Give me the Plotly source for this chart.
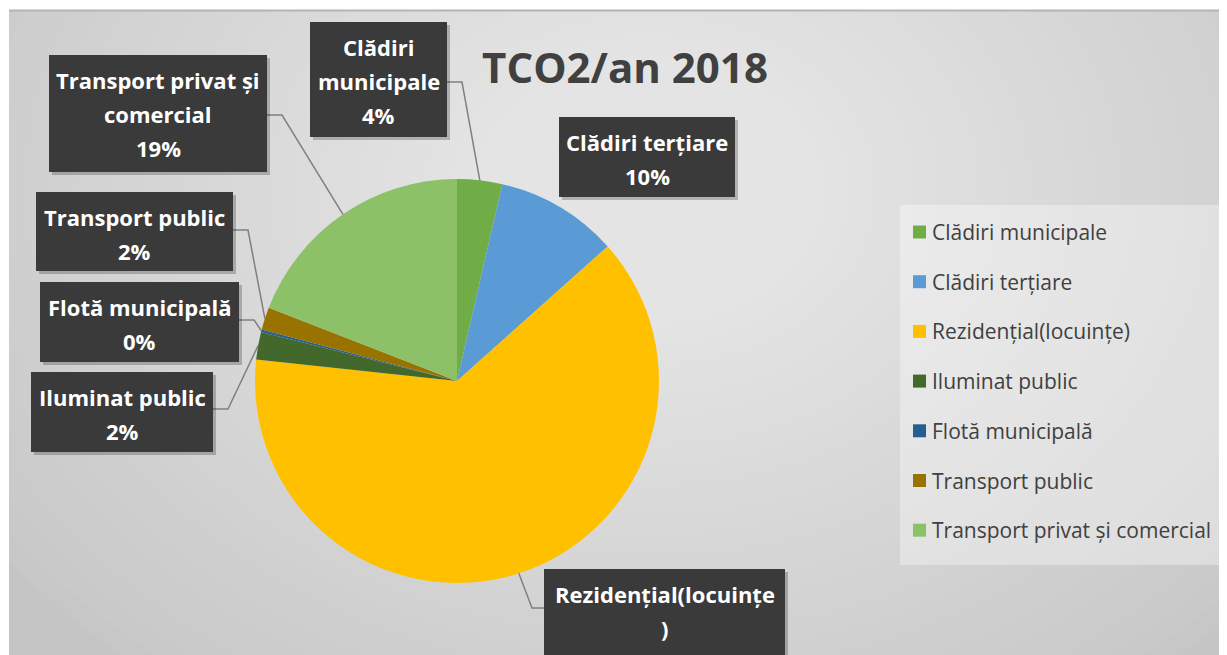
import math
import plotly.graph_objects as go

W, H = 1227, 655
OFF = 8  # page body margin
FW, FH = W - OFF, H - OFF

# ---------------- data ----------------
categories = ["Clădiri municipale", "Clădiri terțiare", "Rezidențial(locuințe)",
              "Iluminat public", "Flotă municipală", "Transport public",
              "Transport privat și comercial"]
values = [3.6, 9.8, 63.3, 2.2, 0.2, 1.8, 19.1]
colors = ["#70AD47", "#5B9BD5", "#FFC000", "#43682B", "#255E91", "#997300", "#8CC168"]
# data-label text as wrapped in the chart
label_lines = [["Clădiri", "municipale"], ["Clădiri terțiare"], ["Rezidențial(locuințe", ")"],
               ["Iluminat public"], ["Flotă municipală"], ["Transport public"],
               ["Transport privat și", "comercial"]]
title_text = "TCO2/an 2018"

# ---------------- layout helpers (page pixels -> paper) ----------------
def px(x):
    return (x - OFF) / FW

def py(y):
    return 1 - (y - OFF) / FH

CX, CY, R = 457, 381, 202
FONT = "Open Sans"

# label boxes: x0, y0, x1, y1, leader side, leader y
boxes = [
    (310, 22, 447, 137, "right", 82),
    (559, 117, 735, 197, None, None),
    (544, 569, 785, 700, "left", 608),
    (31, 372, 213, 452, "right", 409),
    (40, 282, 239, 362, "right", 320),
    (36, 192, 233, 271, "right", 230),
    (49, 55, 267, 172, "right", 115),
]

shapes = []
annotations = []

# background frame with soft radial light
shapes.append(dict(type="rect", xref="paper", yref="paper", layer="below",
                   x0=px(9), x1=px(W), y0=py(H), y1=py(10),
                   fillcolor="#c5c5c5", line=dict(width=0)))
n_layers = 36
for k in range(n_layers):
    s = 1 - k / n_layers
    rx, ry = 800 * s, 620 * s
    gx, gy = 650, 190
    shapes.append(dict(type="circle", xref="paper", yref="paper", layer="below",
                       x0=px(gx - rx), x1=px(gx + rx), y0=py(gy + ry), y1=py(gy - ry),
                       fillcolor="rgba(255,255,255,0.036)", line=dict(width=0)))
# mask outside frame (white strips)
shapes.append(dict(type="rect", xref="paper", yref="paper", layer="below",
                   x0=px(0), x1=px(9), y0=0, y1=1, fillcolor="white", line=dict(width=0)))
shapes.append(dict(type="rect", xref="paper", yref="paper", layer="below",
                   x0=0, x1=1, y0=py(10), y1=py(0), fillcolor="white", line=dict(width=0)))
shapes.append(dict(type="line", xref="paper", yref="paper", layer="below",
                   x0=px(9), x1=px(W), y0=py(10.5), y1=py(10.5),
                   line=dict(color="#b4b4b4", width=2)))

# legend panel
shapes.append(dict(type="rect", xref="paper", yref="paper", layer="below",
                   x0=px(900), x1=px(1222), y0=py(565), y1=py(205),
                   fillcolor="rgba(255,255,255,0.35)", line=dict(width=0)))
for i, (name, col) in enumerate(zip(categories, colors)):
    yc = 232 + 49.7 * i
    shapes.append(dict(type="rect", xref="paper", yref="paper", layer="above",
                       x0=px(913), x1=px(926), y0=py(yc + 6.5), y1=py(yc - 6.5),
                       fillcolor=col, line=dict(width=0)))
    annotations.append(dict(xref="paper", yref="paper", x=px(930), y=py(yc),
                            xanchor="left", yanchor="middle", showarrow=False,
                            text=name, font=dict(family=FONT, size=21, color="#404040")))

# slice angles -> leader lines and labels
total = sum(values)
cum = 0.0
for i, v in enumerate(values):
    mid = (cum + v / 2) / total * 2 * math.pi
    cum += v
    ex = CX + R * math.sin(mid)
    ey = CY - R * math.cos(mid)
    x0, y0, x1, y1, side, ay = boxes[i]
    if side is not None:
        ax = x1 if side == "right" else x0
        bx = ax + 15 if side == "right" else ax - 12
        path = f"M {px(ax)} {py(ay)} L {px(bx)} {py(ay)} L {px(ex)} {py(ey)}"
        shapes.append(dict(type="path", xref="paper", yref="paper", layer="above",
                           path=path, line=dict(color="#808080", width=1.5)))
    shapes.append(dict(type="rect", xref="paper", yref="paper", layer="above",
                       x0=px(x0 + 3), x1=px(x1 + 3), y0=py(y1 + 3), y1=py(y0 + 3),
                       fillcolor="rgba(0,0,0,0.22)", line=dict(width=0)))
    shapes.append(dict(type="rect", xref="paper", yref="paper", layer="above",
                       x0=px(x0), x1=px(x1), y0=py(y1), y1=py(y0),
                       fillcolor="#3a3a3a", line=dict(width=0)))
    lines = label_lines[i] + [f"{round(v / total * 100)}%"]
    xc = (x0 + x1) / 2
    for j, t in enumerate(lines):
        annotations.append(dict(xref="paper", yref="paper", x=px(xc), y=py(y0 + 25 + 34 * j),
                                xanchor="center", yanchor="middle", showarrow=False,
                                text=f"<b>{t}</b>",
                                font=dict(family=FONT, size=22, color="white")))

fig = go.Figure(go.Pie(
    labels=categories, values=values, sort=False, direction="clockwise",
    marker=dict(colors=colors, line=dict(width=0)),
    textinfo="none", showlegend=False,
    domain=dict(x=[px(CX - R), px(CX + R)], y=[py(CY + R), py(CY - R)]),
))

fig.update_layout(
    width=FW, height=FH, margin=dict(l=0, r=0, t=0, b=0),
    paper_bgcolor="white", plot_bgcolor="white",
    showlegend=False,
    title=dict(text=f"<b>{title_text}</b>", x=px(625), y=py(68), xref="paper", yref="paper",
               xanchor="center", yanchor="middle",
               font=dict(family=FONT, size=42, color="#404040")),
    shapes=shapes, annotations=annotations,
)

fig.write_html("out.html")
